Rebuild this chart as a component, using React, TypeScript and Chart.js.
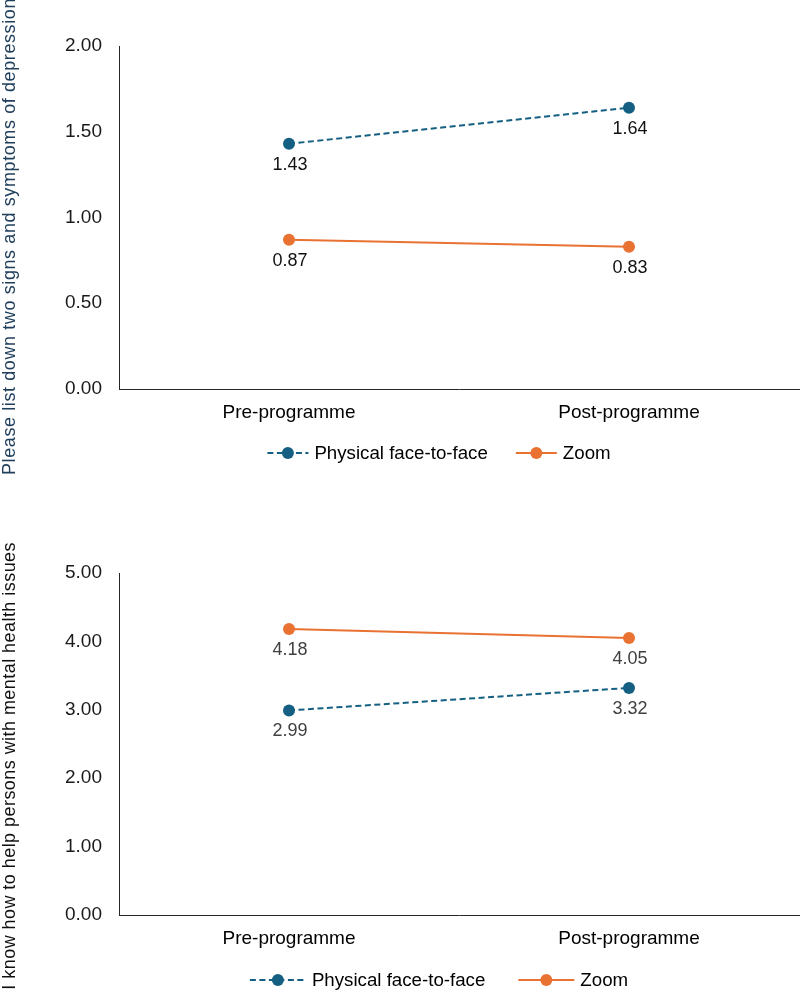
import React, { useEffect, useRef } from 'react';
import { Chart, registerables } from 'chart.js';

Chart.register(...registerables);

// ---- data ----
const categories = ['Pre-programme', 'Post-programme'];
const seriesNames = ['Physical face-to-face', 'Zoom'];
const seriesColors = ['#156082', '#E97132'];

const depressionTitle = 'Please list down two signs and symptoms of depression';
const depressionFaceToFace = [1.43, 1.64];
const depressionZoom = [0.87, 0.83];
const depressionTicks = [0, 0.5, 1, 1.5, 2];

const helpTitle = 'I know how to help persons with mental health issues';
const helpFaceToFace = [2.99, 3.32];
const helpZoom = [4.18, 4.05];
const helpTicks = [0, 1, 2, 3, 4, 5];

const TEXT_FONT = '"Liberation Sans", Arial, sans-serif';

// Rotated axis caption drawn at a fixed spot on the canvas
const sideTitlePlugin = {
  id: 'sideTitle',
  afterDraw(chart: any, _args: any, opts: any) {
    const ctx = chart.ctx;
    ctx.save();
    ctx.translate(opts.x, opts.y);
    ctx.rotate(-Math.PI / 2);
    ctx.font = opts.font;
    if ('letterSpacing' in ctx) (ctx as any).letterSpacing = opts.spacing;
    ctx.fillStyle = opts.color;
    ctx.textAlign = opts.align;
    ctx.textBaseline = 'alphabetic';
    ctx.fillText(opts.text, 0, 0);
    ctx.restore();
  },
};

// Value printed underneath every point
const valueLabelPlugin = {
  id: 'valueLabels',
  afterDatasetsDraw(chart: any, _args: any, opts: any) {
    const ctx = chart.ctx;
    ctx.save();
    ctx.font = opts.font;
    ctx.fillStyle = opts.color;
    ctx.textAlign = 'center';
    ctx.textBaseline = 'middle';
    chart.data.datasets.forEach((ds: any, i: number) => {
      const meta = chart.getDatasetMeta(i);
      meta.data.forEach((pt: any, j: number) => {
        ctx.fillText(Number(ds.data[j]).toFixed(2), pt.x + 1, pt.y + opts.offset);
      });
    });
    ctx.restore();
  },
};

// Legend with a line-and-marker sample for each series
const lineLegendPlugin = {
  id: 'lineLegend',
  afterDraw(chart: any, _args: any, opts: any) {
    const ctx = chart.ctx;
    ctx.save();
    ctx.font = opts.font;
    const items = chart.data.datasets.map((ds: any) => ({
      label: ds.label,
      color: ds.borderColor,
      dash: ds.borderDash || [],
    }));
    const widths = items.map(
      (it: any) => opts.lineLength + opts.textGap + ctx.measureText(it.label).width
    );
    const total =
      widths.reduce((a: number, b: number) => a + b, 0) + opts.itemGap * (items.length - 1);
    let x = opts.centerX - total / 2;
    items.forEach((it: any, i: number) => {
      ctx.strokeStyle = it.color;
      ctx.lineWidth = 2;
      ctx.setLineDash(it.dash);
      ctx.beginPath();
      ctx.moveTo(x, opts.y);
      ctx.lineTo(x + opts.lineLength, opts.y);
      ctx.stroke();
      ctx.setLineDash([]);
      ctx.fillStyle = it.color;
      ctx.beginPath();
      ctx.arc(x + opts.lineLength / 2, opts.y, 6, 0, Math.PI * 2);
      ctx.fill();
      ctx.fillStyle = opts.color;
      ctx.textAlign = 'left';
      ctx.textBaseline = 'middle';
      ctx.fillText(it.label, x + opts.lineLength + opts.textGap, opts.y + 1);
      x += widths[i] + opts.itemGap;
    });
    ctx.restore();
  },
};

type PanelProps = {
  faceToFace: number[];
  zoom: number[];
  ticks: number[];
  title: string;
  titleColor: string;
  titleY: number;
  titleAlign: 'left' | 'right';
  titleSpacing: string;
  labelColor: string;
  height: number;
  padTop: number;
  xAxisHeight: number;
  legendY: number;
  legendLine: number;
  legendGap: number;
};

function LinePanel(p: PanelProps) {
  const ref = useRef<HTMLCanvasElement | null>(null);

  useEffect(() => {
    if (!ref.current) return;
    const step = p.ticks[1] - p.ticks[0];
    const chart = new Chart(ref.current, {
      type: 'line',
      data: {
        labels: categories,
        datasets: [
          {
            label: seriesNames[0],
            data: p.faceToFace,
            borderColor: seriesColors[0],
            backgroundColor: seriesColors[0],
            borderWidth: 2,
            borderDash: [6, 3.5],
            pointRadius: 6,
            pointBorderWidth: 0,
            pointBackgroundColor: seriesColors[0],
            tension: 0,
          },
          {
            label: seriesNames[1],
            data: p.zoom,
            borderColor: seriesColors[1],
            backgroundColor: seriesColors[1],
            borderWidth: 2,
            pointRadius: 6,
            pointBorderWidth: 0,
            pointBackgroundColor: seriesColors[1],
            tension: 0,
          },
        ],
      },
      options: {
        responsive: false,
        animation: false,
        devicePixelRatio: 1,
        layout: { padding: { top: p.padTop, left: 0, right: 0, bottom: 0 } },
        scales: {
          x: {
            type: 'category',
            offset: true,
            grid: { display: false, drawTicks: false },
            border: { display: true, color: '#262626', width: 1 },
            ticks: {
              color: '#000000',
              padding: 12,
              font: { family: TEXT_FONT, size: 19 },
              maxRotation: 0,
            },
            afterFit: (scale: any) => {
              scale.height = p.xAxisHeight;
            },
          },
          y: {
            min: p.ticks[0],
            max: p.ticks[p.ticks.length - 1],
            grid: { display: false, drawTicks: false },
            border: { display: true, color: '#262626', width: 1 },
            ticks: {
              stepSize: step,
              color: '#1a1a1a',
              padding: 17,
              font: { family: TEXT_FONT, size: 19 },
              callback: (v: any) => Number(v).toFixed(2),
            },
            afterFit: (scale: any) => {
              scale.width = 119;
            },
          },
        },
        plugins: {
          legend: { display: false },
          tooltip: { enabled: false },
          sideTitle: {
            text: p.title,
            color: p.titleColor,
            x: 15,
            y: p.titleY,
            align: p.titleAlign,
            font: `18px ${TEXT_FONT}`,
            spacing: p.titleSpacing,
          },
          valueLabels: {
            color: p.labelColor,
            offset: 21,
            font: `18px ${TEXT_FONT}`,
          },
          lineLegend: {
            y: p.legendY,
            centerX: 439,
            lineLength: p.legendLine,
            textGap: 6,
            itemGap: p.legendGap,
            color: '#000000',
            font: `18.7px ${TEXT_FONT}`,
          },
        } as any,
      },
      plugins: [sideTitlePlugin, valueLabelPlugin, lineLegendPlugin],
    } as any);
    return () => chart.destroy();
  }, []);

  return <canvas ref={ref} width={805} height={p.height} style={{ display: 'block' }} />;
}

export default function App() {
  return (
    <div
      style={{
        position: 'fixed',
        left: 0,
        top: 0,
        width: 800,
        height: 993,
        overflow: 'hidden',
        background: '#ffffff',
      }}
    >
      <LinePanel
        faceToFace={depressionFaceToFace}
        zoom={depressionZoom}
        ticks={depressionTicks}
        title={depressionTitle}
        titleColor="#203f5c"
        titleY={475}
        titleAlign="left"
        titleSpacing="0.6px"
        labelColor="#111111"
        height={500}
        padTop={46}
        xAxisHeight={111}
        legendY={453}
        legendLine={41}
        legendGap={28}
      />
      <LinePanel
        faceToFace={helpFaceToFace}
        zoom={helpZoom}
        ticks={helpTicks}
        title={helpTitle}
        titleColor="#111111"
        titleY={42}
        titleAlign="right"
        titleSpacing="0.45px"
        labelColor="#404040"
        height={493}
        padTop={73}
        xAxisHeight={78}
        legendY={480}
        legendLine={56}
        legendGap={33}
      />
    </div>
  );
}
